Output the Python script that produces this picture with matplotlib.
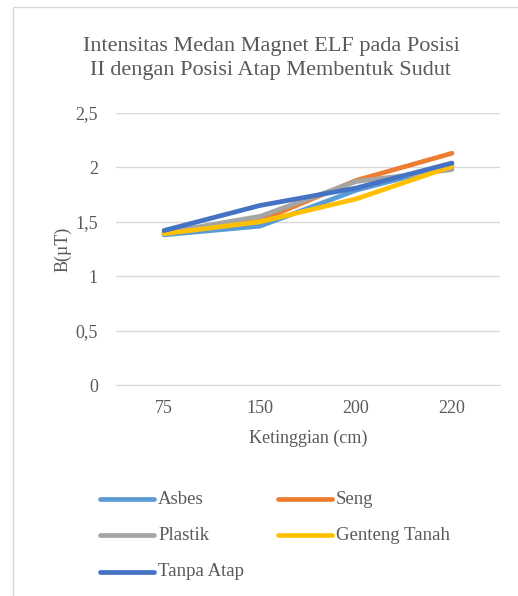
import matplotlib.pyplot as plt
from matplotlib.patches import Rectangle
from matplotlib.lines import Line2D

plt.rcParams['font.family'] = ['Liberation Serif', 'DejaVu Serif']

kategori = ['75', '150', '200', '220']
asbes = [1.38, 1.46, 1.79, 2.02]
seng = [1.40, 1.51, 1.88, 2.13]
plastik = [1.40, 1.55, 1.87, 1.98]
genteng = [1.39, 1.50, 1.71, 2.01]
tanpa_atap = [1.42, 1.65, 1.81, 2.04]
yticks = [0, 0.5, 1, 1.5, 2, 2.5]
ylabels = ['0', '0,5', '1', '1,5', '2', '2,5']
judul = ['Intensitas Medan Magnet ELF pada Posisi',
         'II dengan Posisi Atap Membentuk Sudut']

seri = [('Asbes', asbes, '#5b9bd5'),
        ('Seng', seng, '#ed7d31'),
        ('Plastik', plastik, '#a5a5a5'),
        ('Genteng Tanah', genteng, '#ffc000'),
        ('Tanpa Atap', tanpa_atap, '#4472c4')]

abu = '#595959'
W, H = 518, 596
fig = plt.figure(figsize=(W / 100, H / 100), dpi=100)

# bingkai chart
fig.add_artist(Rectangle((13 / W, -0.02), 1.0, 1 - 7 / H + 0.02, transform=fig.transFigure,
                         fill=False, edgecolor='#d9d9d9', linewidth=1))

ax = fig.add_axes([116 / W, 1 - 385 / H, 384 / W, 272 / H])
x = range(len(kategori))
for nama, y, warna in seri:
    ax.plot(x, y, color=warna, linewidth=3.4, solid_capstyle='round',
            solid_joinstyle='round', label=nama)

ax.set_xlim(-0.5, 3.5)
ax.set_ylim(0, 2.5)
ax.set_yticks(yticks)
ax.set_yticklabels(ylabels)
ax.set_xticks(list(x))
ax.set_xticklabels(kategori)
ax.yaxis.grid(True, color='#d9d9d9', linewidth=1)
ax.set_axisbelow(True)
for s in ['top', 'right', 'left']:
    ax.spines[s].set_visible(False)
ax.spines['bottom'].set_color('#d9d9d9')
ax.tick_params(length=0, labelsize=13, colors=abu)
ax.tick_params(axis='y', pad=13)
ax.tick_params(axis='x', pad=11)

ax.set_xlabel('Ketinggian (cm)', fontsize=13, color=abu, labelpad=9)
ax.set_ylabel('B(µT)', fontsize=13, color=abu, labelpad=3)

# judul dua baris
for i, baris in enumerate(judul):
    fig.text(271 / W, 1 - (46 + 24 * i) / H, baris, ha='center', va='center',
             fontsize=16, color=abu)

# legenda manual dua kolom
posisi = [(100, 499), (278, 499), (100, 535), (278, 535), (100, 572)]
for (nama, y, warna), (px, py) in zip(seri, posisi):
    fig.add_artist(Line2D([px / W, (px + 54) / W], [1 - py / H, 1 - py / H],
                          color=warna, linewidth=3.4, solid_capstyle='round'))
    fig.text((px + 58) / W, 1 - py / H, nama, ha='left', va='center',
             fontsize=13.5, color=abu)

fig.savefig('out.png', dpi=100)
